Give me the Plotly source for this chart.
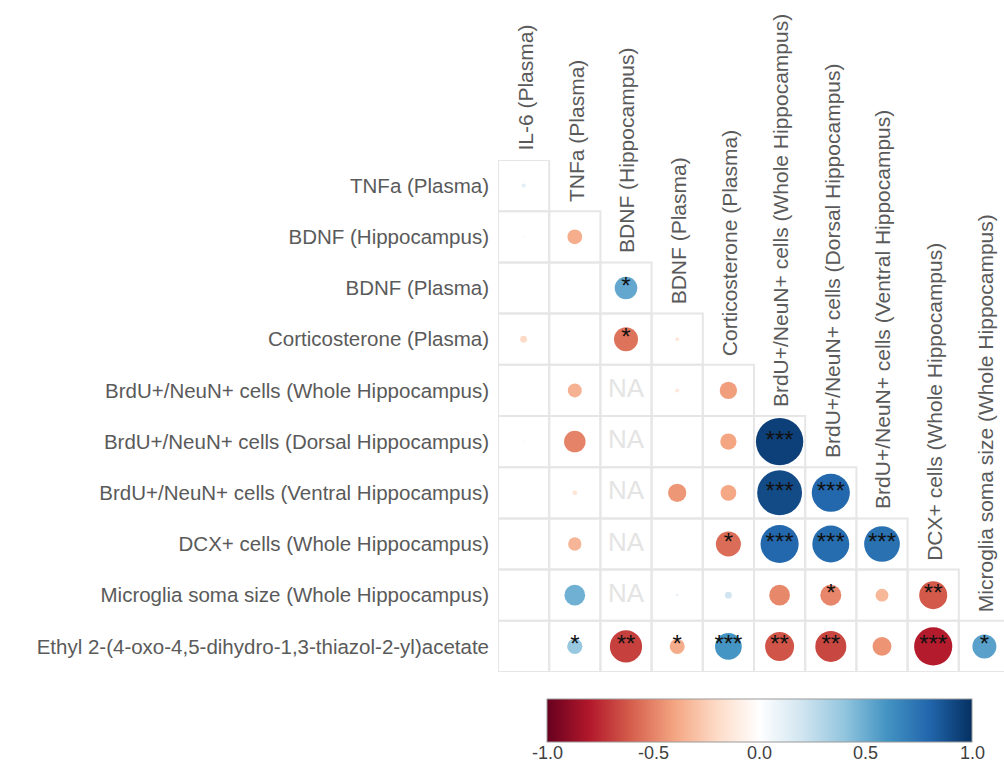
import plotly.graph_objects as go

# ---------------- data ----------------
row_labels = [
    "TNFa (Plasma)",
    "BDNF (Hippocampus)",
    "BDNF (Plasma)",
    "Corticosterone (Plasma)",
    "BrdU+/NeuN+ cells (Whole Hippocampus)",
    "BrdU+/NeuN+ cells (Dorsal Hippocampus)",
    "BrdU+/NeuN+ cells (Ventral Hippocampus)",
    "DCX+ cells (Whole Hippocampus)",
    "Microglia soma size (Whole Hippocampus)",
    "Ethyl 2-(4-oxo-4,5-dihydro-1,3-thiazol-2-yl)acetate",
]
col_labels = [
    "IL-6 (Plasma)",
    "TNFa (Plasma)",
    "BDNF (Hippocampus)",
    "BDNF (Plasma)",
    "Corticosterone (Plasma)",
    "BrdU+/NeuN+ cells (Whole Hippocampus)",
    "BrdU+/NeuN+ cells (Dorsal Hippocampus)",
    "BrdU+/NeuN+ cells (Ventral Hippocampus)",
    "DCX+ cells (Whole Hippocampus)",
    "Microglia soma size (Whole Hippocampus)",
]
# lower-triangle correlations (None = blank, "NA" = not available)
corr_rows = [
    [0.13],
    [-0.07, -0.37],
    [None, None, 0.52],
    [-0.20, None, -0.545, -0.13],
    [-0.04, -0.354, "NA", -0.13, -0.42],
    [-0.06, -0.50, "NA", None, -0.40, 0.94],
    [-0.04, -0.147, "NA", -0.44, -0.39, 0.90, 0.79],
    [-0.03, -0.34, "NA", None, -0.564, 0.79, 0.77, 0.75],
    [0.03, 0.485, "NA", 0.095, 0.20, -0.485, -0.49, -0.33, -0.617],
    [None, 0.38, -0.69, -0.375, 0.594, -0.634, -0.67, -0.45, -0.79, 0.545],
]
star_rows = [
    [""],
    ["", ""],
    ["", "", "*"],
    ["", "", "*", ""],
    ["", "", "", "", ""],
    ["", "", "", "", "", "***"],
    ["", "", "", "", "", "***", "***"],
    ["", "", "", "", "*", "***", "***", "***"],
    ["", "", "", "", "", "", "*", "", "**"],
    ["", "*", "**", "*", "***", "**", "**", "", "***", "*"],
]
colorbar_ticks = [-1.0, -0.5, 0.0, 0.5, 1.0]
rdbu = ["#67001F", "#B2182B", "#D6604D", "#F4A582", "#FDDBC7", "#FFFFFF",
        "#D1E5F0", "#92C5DE", "#4393C3", "#2166AC", "#053061"]

# ---------------- layout constants ----------------
W, H = 1004, 770
CELL = 51.2
ML, MT = 498, 160
n = len(row_labels)
plot_w = W - ML
plot_h = n * CELL
MB = H - MT - plot_h

FONT = "Liberation Sans, Arial, sans-serif"
TXT = "#5a5a5a"

# colorbar geometry (pixels)
CB_X0, CB_X1 = 547, 972
CB_Y0, CB_H = 699, 43
CB_C = (CB_X0 + CB_X1) / 2
CB_LEN = CB_X1 - CB_X0


def px2paper_x(px):
    return (px - ML) / plot_w


def px2paper_y(py):
    return (MT + plot_h - py) / plot_h


xs, ys, vals, sizes = [], [], [], []
sx, sy, stxt = [], [], []
nax, nay = [], []
for i, row in enumerate(corr_rows):
    for j, v in enumerate(row):
        if v == "NA":
            nax.append(j); nay.append(i)
        elif v is not None:
            xs.append(j); ys.append(i); vals.append(v)
            sizes.append(CELL * abs(v) ** 1.25)
        s = star_rows[i][j]
        if s:
            sx.append(j); sy.append(i); stxt.append(s)

colorscale = [[k / (len(rdbu) - 1), c] for k, c in enumerate(rdbu)]

fig = go.Figure()

# grid cells
shapes = []
for i in range(n):
    for j in range(i + 1):
        shapes.append(dict(type="rect", xref="x", yref="y",
                           x0=j - 0.5, x1=j + 0.5, y0=i - 0.5, y1=i + 0.5,
                           line=dict(color="#e6e6e6", width=2),
                           fillcolor="rgba(0,0,0,0)", layer="below"))

fig.add_trace(go.Scatter(
    x=xs, y=ys, mode="markers",
    marker=dict(size=sizes, color=vals, colorscale=colorscale, cmin=-1, cmax=1,
                line=dict(width=0), opacity=1,
                colorbar=dict(orientation="h", x=px2paper_x(CB_C), xanchor="center",
                              y=px2paper_y(CB_Y0), yanchor="top",
                              len=CB_LEN, lenmode="pixels", thickness=CB_H,
                              outlinecolor="#9a9a9a", outlinewidth=1,
                              ticks="", showticklabels=False,
                              xpad=0, ypad=0)),
    hoverinfo="skip", showlegend=False))

fig.add_trace(go.Scatter(
    x=nax, y=nay, mode="text", text=["NA"] * len(nax),
    textfont=dict(family=FONT, size=26, color="#e4e4e4"),
    hoverinfo="skip", showlegend=False))

fig.add_trace(go.Scatter(
    x=sx, y=sy, mode="text", text=stxt,
    textfont=dict(family=FONT, size=24, color="#111111"),
    hoverinfo="skip", showlegend=False))

annotations = []
for j, lab in enumerate(col_labels):
    annotations.append(dict(x=j, y=j - 0.5, xref="x", yref="y", text=lab,
                            textangle=-90, showarrow=False, xanchor="center",
                            yanchor="bottom", yshift=7, xshift=1,
                            font=dict(family=FONT, size=21, color=TXT)))

# colorbar ticks (inside, top and bottom) and labels
for t in colorbar_ticks:
    xp = px2paper_x(CB_C + t * CB_LEN / 2)
    if -1 < t < 1:
        shapes.append(dict(type="line", xref="paper", yref="paper", x0=xp, x1=xp,
                           y0=px2paper_y(CB_Y0), y1=px2paper_y(CB_Y0 + 8),
                           line=dict(color="#444", width=1)))
        shapes.append(dict(type="line", xref="paper", yref="paper", x0=xp, x1=xp,
                           y0=px2paper_y(CB_Y0 + CB_H), y1=px2paper_y(CB_Y0 + CB_H - 8),
                           line=dict(color="#444", width=1)))
    annotations.append(dict(x=xp, y=px2paper_y(CB_Y0 + CB_H + 11), xref="paper",
                            yref="paper", text="%.1f" % t, showarrow=False,
                            xanchor="center", yanchor="middle",
                            font=dict(family=FONT, size=18, color="#404040")))

fig.update_layout(
    width=W, height=H,
    margin=dict(l=ML, r=0, t=MT, b=MB, autoexpand=False),
    paper_bgcolor="white", plot_bgcolor="white",
    shapes=shapes, annotations=annotations,
    xaxis=dict(range=[-0.5, -0.5 + plot_w / CELL], showgrid=False, zeroline=False,
               showticklabels=False, ticks="", fixedrange=True),
    yaxis=dict(range=[n - 0.5, -0.5], showgrid=False, zeroline=False,
               tickvals=list(range(n)), ticktext=row_labels, ticks="",
               ticklabelstandoff=8,
               tickfont=dict(family=FONT, size=20.5, color=TXT), fixedrange=True),
)

fig.write_html("out.html", config={"displayModeBar": False},
               post_script="document.body.style.margin='0px';document.body.style.overflow='hidden';")
